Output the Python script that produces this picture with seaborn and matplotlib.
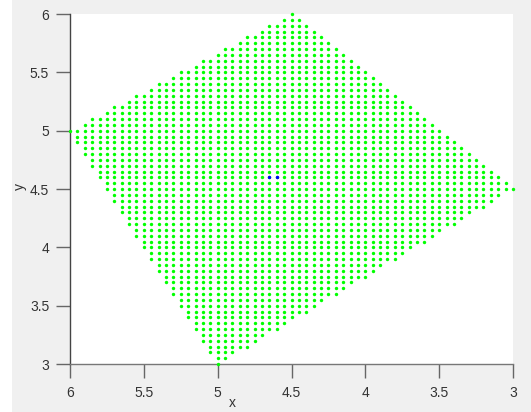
import numpy as np
import pandas as pd
import matplotlib
matplotlib.use("Agg")
import matplotlib.pyplot as plt
from matplotlib.patches import Rectangle
from matplotlib.ticker import FuncFormatter
import seaborn as sns

grid_step = 0.05
# quadrilateral corners (x, y): top, left, bottom, right
corner_x = [4.5, 6.0, 5.0, 3.0]
corner_y = [6.0, 5.0, 3.0, 4.5]
# highlighted points
blue_x = [4.65, 4.60]
blue_y = [4.60, 4.60]

x_ticks = [6, 5.5, 5, 4.5, 4, 3.5, 3]
y_ticks = [3, 3.5, 4, 4.5, 5, 5.5, 6]

# build grid points inside the quadrilateral (integer grid units)
cx = np.round(np.array(corner_x) / grid_step).astype(int)
cy = np.round(np.array(corner_y) / grid_step).astype(int)
gx, gy = np.meshgrid(np.arange(cx.min(), cx.max() + 1), np.arange(cy.min(), cy.max() + 1))
gx = gx.ravel(); gy = gy.ravel()
n = len(cx)
signs = []
for i in range(n):
    x0, y0 = cx[i], cy[i]
    x1, y1 = cx[(i + 1) % n], cy[(i + 1) % n]
    signs.append((x1 - x0) * (gy - y0) - (y1 - y0) * (gx - x0))
signs = np.array(signs)
inside = np.all(signs >= 0, axis=0) | np.all(signs <= 0, axis=0)
green = pd.DataFrame({"x": gx[inside] * grid_step, "y": gy[inside] * grid_step})
blue = pd.DataFrame({"x": blue_x, "y": blue_y})

plt.rcParams["font.family"] = ["Liberation Sans", "DejaVu Sans"]
W, H = 531, 412
fig = plt.figure(figsize=(W / 100, H / 100), dpi=100, facecolor="white")
fig.patches.append(Rectangle((12 / W, 0), 1 - 12 / W, 1, transform=fig.transFigure,
                             facecolor="#f0f0f0", edgecolor="none", zorder=-10))
ax = fig.add_axes([70 / W, 1 - 364 / H, (513 - 70) / W, (364 - 14) / H])
ax.set_facecolor("white")

sns.scatterplot(data=green, x="x", y="y", ax=ax, color="#00ff00", s=6,
                marker="o", linewidth=0, legend=False, zorder=3, clip_on=False)
sns.scatterplot(data=blue, x="x", y="y", ax=ax, color="#0000ff", s=6,
                marker="o", linewidth=0, legend=False, zorder=4, clip_on=False)

ax.set_xlim(6, 3)
ax.set_ylim(3, 6)
ax.set_xticks(x_ticks)
ax.set_yticks(y_ticks)
fmt = FuncFormatter(lambda v, p: f"{v:g}")
ax.xaxis.set_major_formatter(fmt)
ax.yaxis.set_major_formatter(fmt)
for s in ["top", "right"]:
    ax.spines[s].set_visible(False)
ax.spines["left"].set_color("#444444")
ax.spines["bottom"].set_color("#777777")
for s in ["left", "bottom"]:
    ax.spines[s].set_linewidth(1.0)
ax.tick_params(direction="out", length=10, width=1, color="#666666",
               labelsize=10, labelcolor="#333333")
ax.tick_params(axis="x", pad=6)
ax.tick_params(axis="y", pad=5)
ax.set_xlabel("x", fontsize=10, color="#333333")
ax.set_ylabel("y", fontsize=10, color="#333333")
ax.xaxis.set_label_coords((232 - 70) / (513 - 70), -(403 - 364) / (364 - 14))
ax.yaxis.set_label_coords(-(70 - 20) / (513 - 70), (364 - 186) / (364 - 14))
ax.xaxis.label.set_va("center")
ax.yaxis.label.set_va("center")
ax.grid(False)

fig.savefig("out.png", dpi=100, facecolor=fig.get_facecolor())
